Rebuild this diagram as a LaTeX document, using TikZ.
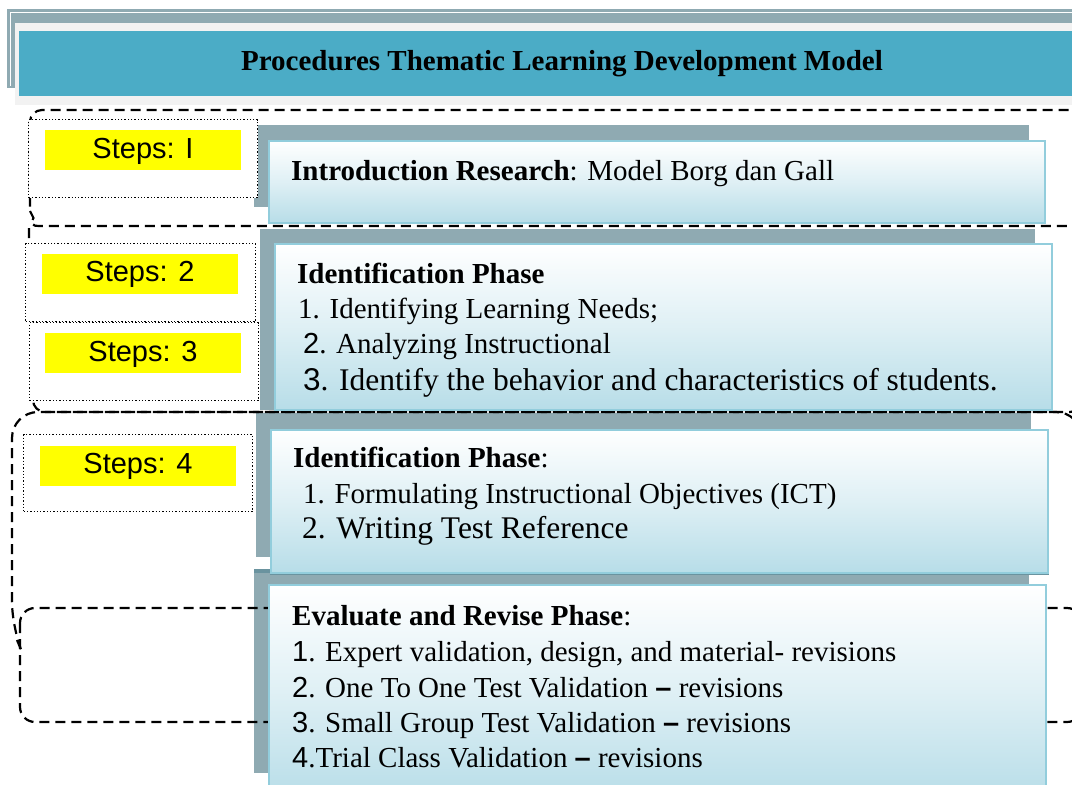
\documentclass[tikz,border=0pt]{standalone}
\usepackage{fontspec}
\setmainfont{Liberation Serif}
\newfontfamily\arialf{Liberation Sans}
\definecolor{shadowgray}{HTML}{8FAAB2}
\definecolor{shadowdark}{HTML}{6A939F}
\definecolor{titleteal}{HTML}{4BACC6}
\definecolor{panelgray}{HTML}{F2F2F2}
\definecolor{boxblue}{HTML}{B7DDE8}
\definecolor{boxedge}{HTML}{92CDDC}
\definecolor{labelyellow}{HTML}{FFFF00}
\newcommand{\bodyfont}{\fontsize{29}{34}\selectfont}
\newcommand{\bigfont}{\fontsize{31.5}{38}\selectfont}
\tikzset{
  px/.style={x=1pt,y=-1pt},
  shadowbox/.style={rectangle, fill=shadowgray, draw=none, inner sep=0pt},
  frontbox/.style={rectangle, top color=white, bottom color=boxblue, middle color=boxblue!45!white,
                   draw=boxedge, line width=2.5pt, inner sep=0pt},
  stepframe/.style={rectangle, fill=white, draw=black, line width=1.3pt, dotted, inner sep=0pt},
  steplabel/.style={rectangle, fill=labelyellow, inner sep=0pt, minimum width=196pt, minimum height=40pt,
                    font=\arialf\fontsize{29}{34}\selectfont, text height=19pt, text depth=3pt},
  groupline/.style={draw=black, line width=2.2pt, dash pattern=on 10pt off 6pt},
  linetext/.style={anchor=base west, inner sep=0pt, font=\bodyfont},
}
\begin{document}
\begin{tikzpicture}[px]
\clip (0,0) rectangle (1072,785);
\fill[white] (0,0) rectangle (1072,785);

% heading banner
\node[shadowbox, minimum width=1093pt, minimum height=79pt, anchor=north west] (hframe) at (7,9) {};
\draw[white, line width=1pt] (10,86) -- (10,12) -- (1100,12);
\node[rectangle, fill=panelgray, inner sep=0pt, minimum width=1085pt, minimum height=82pt, anchor=north west] (hpanel) at (15,23) {};
\node[rectangle, fill=titleteal, inner sep=0pt, minimum width=1081pt, minimum height=65pt, anchor=north west] (hbar) at (19,31) {};
\node[anchor=base, inner sep=0pt, font=\bodyfont\bfseries] (htitle) at (562,70) {Procedures Thematic Learning Development Model};

% back plates of the phase boxes
\node[shadowbox, minimum width=775pt, minimum height=82pt] (s1) at (641.5,166) {};
\node[shadowbox, minimum width=775pt, minimum height=181pt] (s2) at (647.5,319.5) {};
\node[shadowbox, minimum width=775pt, minimum height=144pt] (s3) at (643.5,485) {};
\node[shadowbox, minimum width=775pt, minimum height=204pt] (s4) at (641.5,671) {};
\fill[shadowdark] (s4.north west) rectangle ([yshift=-4pt]s4.north east);

% dashed grouping outlines
\draw[groupline] (30,211) -- (33.5,218) -- (31,223) .. controls (34,226) .. (44,226)
  [rounded corners=12pt] -- (1082,226) -- (1082,110) -- (30,110) -- (30,211);
\draw[groupline, rounded corners=12pt] (29,228) -- (29,275) -- (33,290) -- (33,412) -- (1082,412) -- (1082,240);
\draw[groupline, rounded corners=26pt] (17,640) -- (12,628) -- (12,412) -- (1082,412) -- (1082,590);
\draw[groupline, rounded corners=15pt] (20,608) rectangle (1082,722);

% step frames with their labels
\node[stepframe, minimum width=229pt, minimum height=78pt, anchor=north west] (f1) at (28,119) {};
\node[stepframe, minimum width=230pt, minimum height=78pt, anchor=north west] (f2) at (25,243) {};
\node[stepframe, minimum width=229pt, minimum height=78pt, anchor=north west] (f3) at (29,322) {};
\node[stepframe, minimum width=229pt, minimum height=77pt, anchor=north west] (f4) at (23,434) {};
\node[steplabel] (l1) at (143,150) {Steps: I};
\node[steplabel] (l2) at (140,273.5) {Steps: 2};
\node[steplabel] (l3) at (143,353) {Steps: 3};
\node[steplabel] (l4) at (138,465.5) {Steps: 4};

% front panels
\node[frontbox, minimum width=776pt, minimum height=82pt] (p1) at (657,182) {};
\node[frontbox, minimum width=777pt, minimum height=166pt] (p2) at (663.5,327) {};
\node[frontbox, minimum width=777pt, minimum height=143pt] (p3) at (659.5,501.5) {};
\node[frontbox, minimum width=777pt, minimum height=215pt] (p4) at (657.5,692.5) {};
\draw[shadowdark, line width=1.5pt] (p3.south west) -- (p3.south east);

% panel texts
\node[linetext] (t1) at (291,180) {\textbf{Introduction Research}: Model Borg dan Gall};

\node[linetext, font=\bodyfont\bfseries] (t2h) at (297,283) {Identification Phase};
\node[linetext] (t2a) at (298,318) {1. Identifying Learning Needs;};
\node[linetext] (t2b) at (303,353) {{\arialf 2}. Analyzing Instructional};
\node[linetext, font=\bigfont] (t2c) at (303,390) {{\arialf 3}. Identify the behavior and characteristics of students.};

\node[linetext] (t3h) at (293,467) {\textbf{Identification Phase}:};
\node[linetext] (t3a) at (303,503) {1. Formulating Instructional Objectives (ICT)};
\node[linetext, font=\bigfont] (t3b) at (302,538) {2. Writing Test Reference};

\node[linetext] (t4h) at (292,625) {\textbf{Evaluate and Revise Phase}:};
\node[linetext] (t4a) at (292,661) {{\arialf 1}. Expert validation, design, and material- revisions};
\node[linetext] (t4b) at (292,697) {{\arialf 2}. One To One Test Validation {\arialf\bfseries –} revisions};
\node[linetext] (t4c) at (292,732) {{\arialf 3}. Small Group Test Validation {\arialf\bfseries –} revisions};
\node[linetext] (t4d) at (292,767) {{\arialf 4}.Trial Class Validation {\arialf\bfseries –} revisions};
\end{tikzpicture}
\end{document}
